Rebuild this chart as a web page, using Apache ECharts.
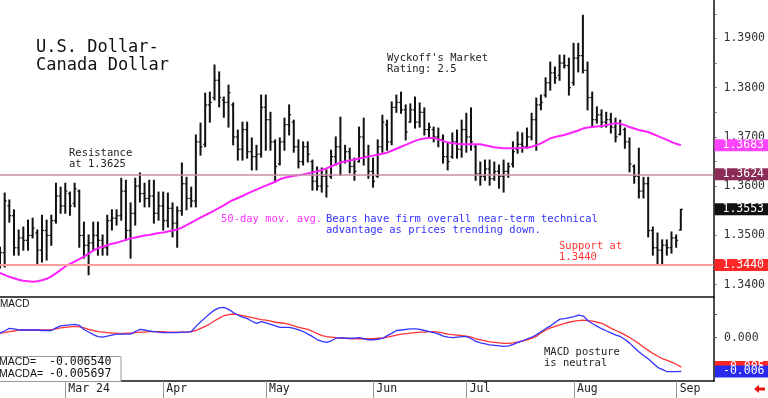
<!DOCTYPE html>
<html>
<head>
    <meta charset="utf8">
    <title>USD/CAD</title>
    <script src="https://cdn.jsdelivr.net/npm/echarts@6/dist/echarts.min.js"></script>
    <style>
        body { margin: 0; background: #fff; }
    </style>
</head>
<body>
    <div id="main" style="width: 768px;height:398px;"></div>
    <script type="text/javascript">
        // daily bars, Feb 12 2024 .. Sep 3 2024 (weekdays)
        var highs = [1.3476,1.3586,1.3572,1.3552,1.3511,1.3517,1.3531,1.3535,1.3511,1.3541,
            1.3531,1.3541,1.3606,1.3598,1.3606,1.3588,1.3606,1.3592,1.3527,1.3501,
            1.3527,1.3527,1.3501,1.3541,1.3552,1.3552,1.3616,1.3612,1.3566,1.3616,
            1.3627,1.3606,1.3612,1.3612,1.3588,1.3588,1.3586,1.3566,1.3558,1.3647,
            1.3618,1.3598,1.3704,1.3728,1.3789,1.3791,1.3846,1.3832,1.3781,1.3805,
            1.3769,1.3714,1.3730,1.3730,1.3698,1.3683,1.3785,1.3785,1.3750,1.3694,
            1.3698,1.3738,1.3765,1.3734,1.3694,1.3690,1.3690,1.3653,1.3639,1.3637,
            1.3633,1.3673,1.3700,1.3740,1.3683,1.3677,1.3657,1.3720,1.3738,1.3683,
            1.3657,1.3694,1.3744,1.3734,1.3771,1.3785,1.3791,1.3765,1.3767,1.3781,
            1.3769,1.3759,1.3728,1.3720,1.3718,1.3704,1.3688,1.3708,1.3714,1.3734,
            1.3748,1.3759,1.3683,1.3649,1.3653,1.3653,1.3649,1.3643,1.3653,1.3647,
            1.3690,1.3710,1.3708,1.3718,1.3748,1.3779,1.3785,1.3820,1.3852,1.3842,
            1.3866,1.3866,1.3860,1.3890,1.3890,1.3947,1.3852,1.3791,1.3761,1.3755,
            1.3750,1.3748,1.3738,1.3734,1.3718,1.3698,1.3643,1.3677,1.3618,1.3618,
            1.3517,1.3505,1.3491,1.3491,1.3507,1.3501,1.3553];
        var lows = [1.3434,1.3436,1.3527,1.3460,1.3460,1.3470,1.3470,1.3495,1.3440,1.3446,
            1.3450,1.3480,1.3525,1.3545,1.3545,1.3541,1.3558,1.3476,1.3454,1.3420,
            1.3470,1.3460,1.3460,1.3460,1.3511,1.3521,1.3531,1.3490,1.3454,1.3521,
            1.3568,1.3558,1.3558,1.3525,1.3531,1.3511,1.3517,1.3497,1.3476,1.3541,
            1.3552,1.3558,1.3558,1.3663,1.3680,1.3730,1.3775,1.3761,1.3740,1.3720,
            1.3684,1.3653,1.3653,1.3657,1.3633,1.3633,1.3659,1.3673,1.3673,1.3608,
            1.3643,1.3673,1.3704,1.3669,1.3637,1.3643,1.3649,1.3592,1.3592,1.3588,
            1.3578,1.3616,1.3643,1.3622,1.3647,1.3627,1.3612,1.3649,1.3643,1.3616,
            1.3598,1.3618,1.3669,1.3673,1.3684,1.3750,1.3748,1.3694,1.3730,1.3718,
            1.3720,1.3704,1.3700,1.3690,1.3680,1.3647,1.3633,1.3657,1.3657,1.3659,
            1.3669,1.3673,1.3612,1.3602,1.3612,1.3602,1.3612,1.3596,1.3588,1.3618,
            1.3639,1.3667,1.3669,1.3677,1.3694,1.3673,1.3755,1.3781,1.3795,1.3809,
            1.3815,1.3840,1.3785,1.3805,1.3832,1.3830,1.3755,1.3720,1.3728,1.3720,
            1.3720,1.3708,1.3690,1.3704,1.3677,1.3629,1.3606,1.3576,1.3576,1.3497,
            1.3460,1.3440,1.3440,1.3460,1.3464,1.3476,1.3511];
        var opens = [1.3445,1.3465,1.3560,1.3540,1.3475,1.3495,1.3490,1.3500,1.3505,1.3470,
            1.3510,1.3500,1.3530,1.3580,1.3560,1.3585,1.3565,1.3590,1.3500,1.3480,
            1.3485,1.3500,1.3490,1.3475,1.3530,1.3535,1.3540,1.3590,1.3510,1.3545,
            1.3600,1.3585,1.3575,1.3580,1.3545,1.3560,1.3530,1.3555,1.3525,1.3550,
            1.3605,1.3575,1.3570,1.3690,1.3685,1.3765,1.3780,1.3815,1.3775,1.3770,
            1.3765,1.3700,1.3675,1.3715,1.3670,1.3660,1.3665,1.3760,1.3735,1.3690,
            1.3645,1.3690,1.3725,1.3730,1.3680,1.3650,1.3680,1.3650,1.3610,1.3600,
            1.3620,1.3620,1.3660,1.3680,1.3650,1.3670,1.3640,1.3650,1.3700,1.3660,
            1.3630,1.3620,1.3680,1.3725,1.3690,1.3760,1.3770,1.3755,1.3730,1.3755,
            1.3730,1.3750,1.3715,1.3715,1.3700,1.3695,1.3660,1.3660,1.3690,1.3675,
            1.3715,1.3700,1.3680,1.3625,1.3620,1.3635,1.3615,1.3630,1.3620,1.3630,
            1.3645,1.3675,1.3685,1.3680,1.3700,1.3735,1.3765,1.3785,1.3810,1.3830,
            1.3825,1.3850,1.3845,1.3810,1.3860,1.3865,1.3835,1.3780,1.3735,1.3745,
            1.3730,1.3735,1.3720,1.3705,1.3715,1.3690,1.3640,1.3620,1.3590,1.3605,
            1.3510,1.3475,1.3470,1.3480,1.3475,1.3495,1.3511];
        var closes = [1.3465,1.3570,1.3540,1.3475,1.3495,1.3490,1.3500,1.3515,1.3470,1.3510,
            1.3500,1.3530,1.3580,1.3560,1.3590,1.3560,1.3595,1.3500,1.3480,1.3485,
            1.3500,1.3490,1.3475,1.3530,1.3535,1.3540,1.3590,1.3510,1.3545,1.3600,
            1.3585,1.3575,1.3580,1.3545,1.3560,1.3530,1.3555,1.3525,1.3550,1.3605,
            1.3575,1.3570,1.3690,1.3680,1.3765,1.3770,1.3815,1.3780,1.3770,1.3790,
            1.3700,1.3675,1.3715,1.3670,1.3660,1.3665,1.3760,1.3735,1.3690,1.3640,
            1.3690,1.3725,1.3745,1.3680,1.3650,1.3680,1.3665,1.3610,1.3600,1.3620,
            1.3600,1.3660,1.3680,1.3650,1.3670,1.3640,1.3630,1.3700,1.3660,1.3630,
            1.3610,1.3680,1.3730,1.3690,1.3760,1.3770,1.3755,1.3710,1.3755,1.3730,
            1.3750,1.3715,1.3720,1.3700,1.3695,1.3660,1.3650,1.3690,1.3675,1.3715,
            1.3700,1.3690,1.3625,1.3620,1.3635,1.3615,1.3630,1.3620,1.3630,1.3640,
            1.3670,1.3685,1.3680,1.3700,1.3735,1.3765,1.3770,1.3810,1.3830,1.3820,
            1.3850,1.3845,1.3800,1.3860,1.3865,1.3835,1.3780,1.3735,1.3745,1.3730,
            1.3735,1.3720,1.3700,1.3725,1.3690,1.3645,1.3620,1.3590,1.3605,1.3510,
            1.3475,1.3470,1.3480,1.3475,1.3495,1.3490,1.3553];
        // 50-day moving average
        var ma50 = [1.3424,1.3420,1.3416,1.3413,1.3410,1.3408,1.3407,1.3406,1.3407,1.3409,
            1.3412,1.3417,1.3423,1.3430,1.3437,1.3442,1.3447,1.3452,1.3457,1.3463,
            1.3469,1.3474,1.3477,1.3480,1.3483,1.3485,1.3488,1.3491,1.3494,1.3496,
            1.3498,1.3500,1.3501,1.3503,1.3505,1.3506,1.3508,1.3510,1.3512,1.3516,
            1.3521,1.3526,1.3531,1.3536,1.3541,1.3546,1.3551,1.3556,1.3561,1.3567,
            1.3572,1.3576,1.3580,1.3585,1.3589,1.3593,1.3597,1.3601,1.3605,1.3609,
            1.3614,1.3617,1.3619,1.3621,1.3622,1.3624,1.3626,1.3628,1.3630,1.3633,
            1.3636,1.3640,1.3644,1.3648,1.3650,1.3652,1.3654,1.3656,1.3658,1.3660,
            1.3662,1.3664,1.3666,1.3668,1.3672,1.3676,1.3680,1.3684,1.3688,1.3692,
            1.3695,1.3697,1.3698,1.3698,1.3695,1.3692,1.3689,1.3687,1.3686,1.3685,
            1.3685,1.3685,1.3685,1.3685,1.3683,1.3681,1.3679,1.3678,1.3677,1.3677,
            1.3677,1.3677,1.3678,1.3678,1.3680,1.3683,1.3687,1.3692,1.3697,1.3700,
            1.3702,1.3704,1.3707,1.3710,1.3713,1.3717,1.3719,1.3720,1.3721,1.3722,
            1.3724,1.3726,1.3728,1.3727,1.3724,1.3720,1.3717,1.3714,1.3712,1.3710,
            1.3706,1.3702,1.3698,1.3694,1.3690,1.3686,1.3683];
        var macd = [0.0009,0.0013,0.0018,0.0017,0.0015,0.0015,0.0015,0.0015,0.0015,0.0014,
            0.0014,0.0014,0.0019,0.0023,0.0024,0.0025,0.0026,0.0024,0.0016,0.0011,
            0.0006,0.0002,0.0001,0.0003,0.0005,0.0007,0.0007,0.0007,0.0007,0.0012,
            0.0016,0.0015,0.0013,0.0012,0.0011,0.0010,0.0010,0.0010,0.0010,0.0011,
            0.0011,0.0012,0.0022,0.0031,0.0039,0.0047,0.0054,0.0058,0.0059,0.0055,
            0.0049,0.0044,0.0040,0.0037,0.0032,0.0028,0.0031,0.0029,0.0026,0.0023,
            0.0020,0.0020,0.0020,0.0018,0.0015,0.0012,0.0007,0.0002,-0.0004,-0.0007,
            -0.0009,-0.0006,-0.0001,0.0000,-0.0001,-0.0001,-0.0001,0.0000,-0.0002,-0.0004,
            -0.0004,-0.0003,-0.0001,0.0004,0.0009,0.0014,0.0015,0.0016,0.0017,0.0017,
            0.0016,0.0014,0.0012,0.0010,0.0007,0.0003,0.0001,0.0000,0.0001,0.0002,
            0.0002,-0.0002,-0.0007,-0.0010,-0.0012,-0.0014,-0.0015,-0.0016,-0.0017,-0.0016,
            -0.0013,-0.0009,-0.0006,-0.0002,0.0001,0.0006,0.0012,0.0018,0.0023,0.0030,
            0.0036,0.0037,0.0039,0.0041,0.0044,0.0042,0.0033,0.0027,0.0022,0.0017,
            0.0013,0.0009,0.0005,0.0002,-0.0004,-0.0011,-0.0020,-0.0028,-0.0035,-0.0042,
            -0.0050,-0.0058,-0.0062,-0.0066,-0.0066,-0.0066,-0.00654];
        var macda = [0.0009,0.0010,0.0012,0.0013,0.0015,0.0015,0.0015,0.0015,0.0015,0.0015,
            0.0015,0.0015,0.0017,0.0019,0.0020,0.0021,0.0022,0.0021,0.0019,0.0016,
            0.0014,0.0012,0.0011,0.0010,0.0009,0.0009,0.0008,0.0009,0.0009,0.0010,
            0.0011,0.0011,0.0012,0.0012,0.0012,0.0012,0.0011,0.0011,0.0011,0.0011,
            0.0011,0.0012,0.0014,0.0018,0.0022,0.0027,0.0033,0.0038,0.0043,0.0045,
            0.0046,0.0045,0.0043,0.0041,0.0039,0.0037,0.0035,0.0034,0.0032,0.0030,
            0.0029,0.0028,0.0026,0.0023,0.0020,0.0018,0.0016,0.0012,0.0008,0.0004,
            0.0002,0.0001,0.0000,-0.0001,-0.0001,-0.0002,-0.0002,-0.0002,-0.0002,-0.0002,
            -0.0002,-0.0001,-0.0001,0.0001,0.0003,0.0005,0.0007,0.0008,0.0009,0.0010,
            0.0011,0.0011,0.0012,0.0012,0.0011,0.0009,0.0007,0.0006,0.0005,0.0004,
            0.0003,0.0001,-0.0002,-0.0004,-0.0006,-0.0008,-0.0009,-0.0010,-0.0011,-0.0011,
            -0.0010,-0.0008,-0.0006,-0.0004,-0.0001,0.0003,0.0010,0.0015,0.0019,0.0022,
            0.0025,0.0028,0.0030,0.0032,0.0033,0.0034,0.0033,0.0032,0.0030,0.0028,
            0.0023,0.0018,0.0014,0.0010,0.0005,0.0000,-0.0006,-0.0012,-0.0019,-0.0025,
            -0.0031,-0.0036,-0.0041,-0.0044,-0.0048,-0.0052,-0.0057];

        var resistance = 1.3624;
        var support = 1.3440;
        var priceLabels = [1.34, 1.35, 1.36, 1.37, 1.38, 1.39];
        var priceTicks = [1.34, 1.345, 1.35, 1.355, 1.36, 1.365, 1.37, 1.375, 1.38, 1.385, 1.39, 1.395];
        var macdLabels = [0];
        var monthNames = ['Jan', 'Feb', 'Mar 24', 'Apr', 'May', 'Jun', 'Jul', 'Aug', 'Sep', 'Oct'];

        // weekday calendar, with some empty room after the last bar
        var nSlots = 154;
        var dates = [];
        for (var d = new Date(2024, 1, 12); dates.length < nSlots; d.setDate(d.getDate() + 1)) {
            if (d.getDay() !== 0 && d.getDay() !== 6) dates.push(new Date(d.getTime()));
        }
        var cats = dates.map(function (t) { return (t.getMonth() + 1) + '/' + t.getDate(); });
        var isMonthStart = function (i) {
            return i > 0 && dates[i].getMonth() !== dates[i - 1].getMonth();
        };

        var ohlc = highs.map(function (h, i) { return [i, opens[i], closes[i], lows[i], h]; });
        var last = closes.length - 1;
        var mono = '"DejaVu Sans Mono", monospace';

        function renderBar(params, api) {
            var x = api.value(0);
            var o = api.coord([x, api.value(1)]);
            var c = api.coord([x, api.value(2)]);
            var l = api.coord([x, api.value(3)]);
            var h = api.coord([x, api.value(4)]);
            var st = { stroke: '#111', lineWidth: 2 };
            var tk = { stroke: '#111', lineWidth: 1.2 };
            return {
                type: 'group',
                children: [
                    { type: 'line', shape: { x1: h[0], y1: h[1] - 0.5, x2: l[0], y2: l[1] + 0.5 }, style: st },
                    { type: 'line', shape: { x1: o[0] - 2, y1: o[1], x2: o[0], y2: o[1] }, style: tk },
                    { type: 'line', shape: { x1: c[0], y1: c[1], x2: c[0] + 2, y2: c[1] }, style: tk }
                ]
            };
        }

        function boxLabel(text, bg) {
            return {
                show: true, position: 'end', distance: 1, formatter: text,
                color: '#fff', backgroundColor: bg, fontFamily: mono, fontSize: 11.5,
                padding: [1, 12, 0, 8], lineHeight: 11
            };
        }
        function trunc3(v) { return (Math.trunc(v * 1000) / 1000).toFixed(3); }
        var hidden = { color: 'rgba(0,0,0,0)', width: 0 };

        var myChart = echarts.init(document.getElementById('main'));
        var option = {
            animation: false,
            backgroundColor: '#fff',
            grid: [
                { left: 0, top: 0, width: 714, height: 297 },
                { left: 0, top: 297, width: 714, height: 84 }
            ],
            xAxis: [
                {
                    gridIndex: 0, type: 'category', data: cats, boundaryGap: false,
                    axisLine: { onZero: false, lineStyle: { color: '#111', width: 1.5 } },
                    axisTick: { show: false }, axisLabel: { show: false }, splitLine: { show: false }
                },
                {
                    gridIndex: 1, type: 'category', data: cats, boundaryGap: false,
                    axisLine: { onZero: false, lineStyle: { color: '#111', width: 1.5 } },
                    axisTick: { show: true, interval: isMonthStart, length: 17, lineStyle: { color: '#999', width: 1 } },
                    axisLabel: {
                        interval: isMonthStart, margin: 2, align: 'left', padding: [0, 0, 0, 3],
                        fontFamily: mono, fontSize: 11.5, color: '#222',
                        formatter: function (v, i) { return monthNames[dates[i].getMonth()]; }
                    },
                    splitLine: { show: false }
                }
            ],
            yAxis: [
                {
                    gridIndex: 0, type: 'value', position: 'right', min: 1.3375, max: 1.3978,
                    splitLine: { show: false },
                    axisLine: { show: true, lineStyle: { color: '#111', width: 1.5 } },
                    axisTick: { show: true, customValues: priceTicks, length: 3, lineStyle: { color: '#555' } },
                    axisLabel: {
                        customValues: priceLabels, margin: 10, fontFamily: mono, fontSize: 11.5, color: '#333',
                        formatter: function (v) { return v.toFixed(4); }
                    }
                },
                {
                    gridIndex: 1, type: 'value', position: 'right', min: -0.0084, max: 0.0079,
                    splitLine: { show: false },
                    axisLine: { show: true, lineStyle: { color: '#111', width: 1.5 } },
                    axisTick: { show: true, customValues: [0.0045, 0, -0.0045], length: 3, lineStyle: { color: '#555' } },
                    axisLabel: {
                        customValues: macdLabels, margin: 10, fontFamily: mono, fontSize: 11.5, color: '#333',
                        formatter: function (v) { return v.toFixed(3); }
                    }
                }
            ],
            series: [
                {
                    type: 'custom', name: 'USDCAD', xAxisIndex: 0, yAxisIndex: 0,
                    renderItem: renderBar, data: ohlc, encode: { x: 0, y: [1, 2, 3, 4] }, clip: true
                },
                {
                    type: 'line', name: '50-day', xAxisIndex: 0, yAxisIndex: 0, data: ma50,
                    showSymbol: false, symbol: 'none', lineStyle: { color: '#ff22ff', width: 2 },
                    markLine: {
                        silent: true, symbol: ['none', 'none'], precision: 6,
                        data: [
                            { yAxis: resistance, lineStyle: { color: '#c98ca8', width: 1.5, type: 'solid' }, label: boxLabel(resistance.toFixed(4), '#8c2c56') },
                            { yAxis: support, lineStyle: { color: '#ff9c9c', width: 2, type: 'solid' }, label: boxLabel(support.toFixed(4), '#ff2626') },
                            { yAxis: ma50[last], lineStyle: hidden, label: boxLabel(ma50[last].toFixed(4), '#ff44ff') },
                            { yAxis: closes[last], lineStyle: hidden, label: boxLabel(closes[last].toFixed(4), '#111') }
                        ]
                    }
                },
                {
                    type: 'line', name: 'MACDA', xAxisIndex: 1, yAxisIndex: 1, data: macda,
                    showSymbol: false, symbol: 'none', lineStyle: { color: '#ff3333', width: 1.3 },
                    markLine: {
                        silent: true, symbol: ['none', 'none'], precision: 6,
                        data: [{ yAxis: macda[last], lineStyle: hidden, label: boxLabel(trunc3(macda[last]), '#ff2626') }]
                    }
                },
                {
                    type: 'line', name: 'MACD', xAxisIndex: 1, yAxisIndex: 1, data: macd,
                    showSymbol: false, symbol: 'none', lineStyle: { color: '#3333ff', width: 1.3 },
                    markLine: {
                        silent: true, symbol: ['none', 'none'], precision: 6,
                        data: [{ yAxis: macd[last], lineStyle: hidden, label: boxLabel(trunc3(macd[last]), '#2a2aee') }]
                    }
                }
            ],
            graphic: [
                { type: 'text', left: 36, top: 39, style: { text: 'U.S. Dollar-\nCanada Dollar', font: '17px ' + mono, fill: '#111', lineHeight: 18 } },
                { type: 'text', left: 69, top: 148, style: { text: 'Resistance\nat 1.3625', font: '10.5px ' + mono, fill: '#222', lineHeight: 11 } },
                { type: 'text', left: 387, top: 53, style: { text: "Wyckoff's Market\nRating: 2.5", font: '10.5px ' + mono, fill: '#222', lineHeight: 11 } },
                { type: 'text', left: 221, top: 214, style: { text: '50-day mov. avg.', font: '10.5px ' + mono, fill: '#ff33ff', lineHeight: 11 } },
                { type: 'text', left: 326, top: 214, style: { text: 'Bears have firm overall near-term technical\nadvantage as prices trending down.', font: '10.5px ' + mono, fill: '#3333ff', lineHeight: 11 } },
                { type: 'text', left: 559, top: 241, style: { text: 'Support at\n1.3440', font: '10.5px ' + mono, fill: '#ff3333', lineHeight: 11 } },
                { type: 'text', left: 544, top: 347, style: { text: 'MACD posture\nis neutral', font: '10.5px ' + mono, fill: '#222', lineHeight: 11 } },
                { type: 'text', left: 0, top: 299, style: { text: 'MACD', font: '10px "Liberation Sans", sans-serif', fill: '#111' } },
                { type: 'rect', shape: { x: -2, y: 356.5, width: 123, height: 25 }, style: { fill: '#fff', stroke: '#999', lineWidth: 1 }, z: 10 },
                { type: 'text', left: -1, top: 356, z: 11, style: { text: 'MACD=\nMACDA=', font: '10.5px "Liberation Sans", sans-serif', fill: '#111', lineHeight: 12 } },
                { type: 'text', left: 49, top: 356, z: 11, style: { text: '-0.006540\n-0.005697', font: '11.5px ' + mono, fill: '#111', lineHeight: 12 } },
                { type: 'polygon', shape: { points: [[754, 389], [759, 385], [759, 387.5], [765, 387.5], [765, 390.5], [759, 390.5], [759, 393]] }, style: { fill: '#ee1111' } }
            ]
        };
        myChart.setOption(option);
    </script>
</body>
</html>
